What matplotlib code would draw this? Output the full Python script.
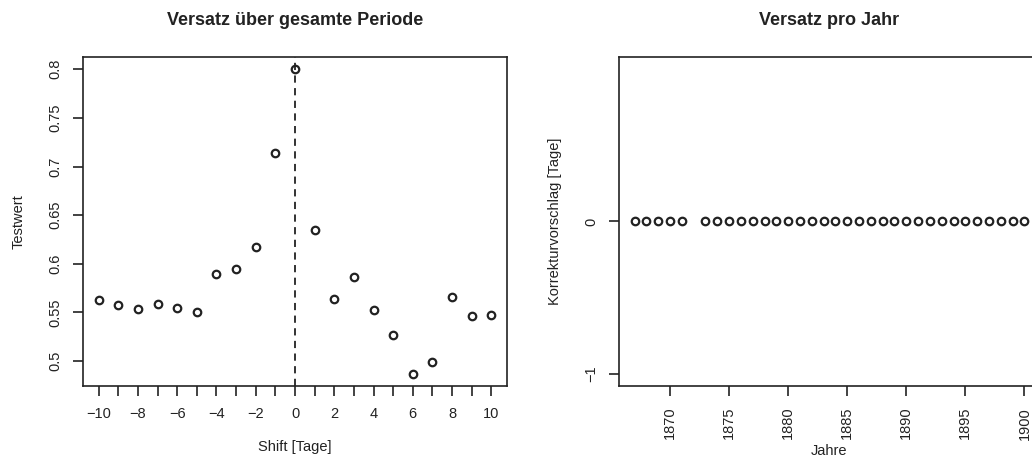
"""Two-panel R-style scatter: offset test values and per-year correction."""
import matplotlib

matplotlib.use("Agg")
import matplotlib.pyplot as plt
import numpy as np

# left panel: test value per shift (days)
shifts = list(range(-10, 11))
test_values = [
    0.563, 0.558, 0.554, 0.559, 0.555, 0.551, 0.590, 0.595, 0.617, 0.714,
    0.800, 0.635, 0.564, 0.586, 0.553, 0.527, 0.487, 0.499, 0.566, 0.546,
    0.547,
]

# right panel: correction proposal per year (1872 missing)
years = [y for y in range(1867, 1901) if y != 1872]
corrections = [0] * len(years)

left_title = "Versatz über gesamte Periode"
right_title = "Versatz pro Jahr"

plt.rcParams["font.family"] = ["Liberation Sans", "DejaVu Sans"]
plt.rcParams["axes.linewidth"] = 1.2

W, H = 1032, 461
fig = plt.figure(figsize=(W / 100, H / 100), dpi=100)


def px_axes(left, top, right, bottom):
    """Add axes from pixel box coordinates."""
    return fig.add_axes(
        [left / W, (H - bottom) / H, (right - left) / W, (bottom - top) / H]
    )


def r_style(ax):
    for side in ("top", "right", "left", "bottom"):
        ax.spines[side].set_color("#222222")
    ax.tick_params(
        direction="out", length=7, width=1.2, color="#222222",
        labelsize=10.5, labelcolor="#222222", pad=8,
    )
    for lab in ax.get_yticklabels():
        lab.set_rotation(90)
        lab.set_va("center")


marker_style = dict(
    linestyle="none", marker="o", markersize=5.4, markerfacecolor="none",
    markeredgecolor="#222222", markeredgewidth=1.6,
)

# --- left panel
ax1 = px_axes(83, 57, 507, 386)
ax1.plot(shifts, test_values, **marker_style)
ax1.axvline(0, color="#222222", linestyle=(0, (4, 3)), linewidth=1.3)
rng = max(shifts) - min(shifts)
ax1.set_xlim(min(shifts) - 0.04 * rng, max(shifts) + 0.04 * rng)
vr = max(test_values) - min(test_values)
ax1.set_ylim(min(test_values) - 0.04 * vr, max(test_values) + 0.04 * vr)
ax1.set_xticks(range(-10, 11))
ax1.set_xticklabels([str(t).replace("-", "\u2212") if t % 2 == 0 else ""
                     for t in range(-10, 11)])
ax1.set_yticks([0.5, 0.55, 0.6, 0.65, 0.7, 0.75, 0.8])
ax1.set_yticklabels(["0.5", "0.55", "0.6", "0.65", "0.7", "0.75", "0.8"])
r_style(ax1)
ax1.set_xlabel("Shift [Tage]", fontsize=10.5, color="#222222", labelpad=14)
ax1.set_ylabel("Testwert", fontsize=10.5, color="#222222", labelpad=16)
ax1.set_title(left_title, fontsize=13, fontweight="bold", color="#222222",
              pad=23)

# --- right panel (extends past the right edge of the picture)
ax2 = px_axes(619, 57, 1040, 386)
ax2.plot(years, corrections, **marker_style)
yr = max(years) - min(years)
ax2.set_xlim(min(years) - 0.04 * yr, max(years) + 0.04 * yr)
ax2.set_ylim(-1.08, 1.08)
ax2.set_xticks(range(1870, 1901, 5))
ax2.set_yticks([-1, 0])
ax2.set_yticklabels(["\u22121", "0"])
r_style(ax2)
for lab in ax2.get_xticklabels():
    lab.set_rotation(90)
ax2.set_xlabel("Jahre", fontsize=10.5, color="#222222", labelpad=3)
ax2.set_ylabel("Korrekturvorschlag [Tage]", fontsize=10.5, color="#222222",
               labelpad=16)
ax2.set_title(right_title, fontsize=13, fontweight="bold", color="#222222",
              pad=23)

fig.savefig("out.png", dpi=100)
plt.close(fig)
